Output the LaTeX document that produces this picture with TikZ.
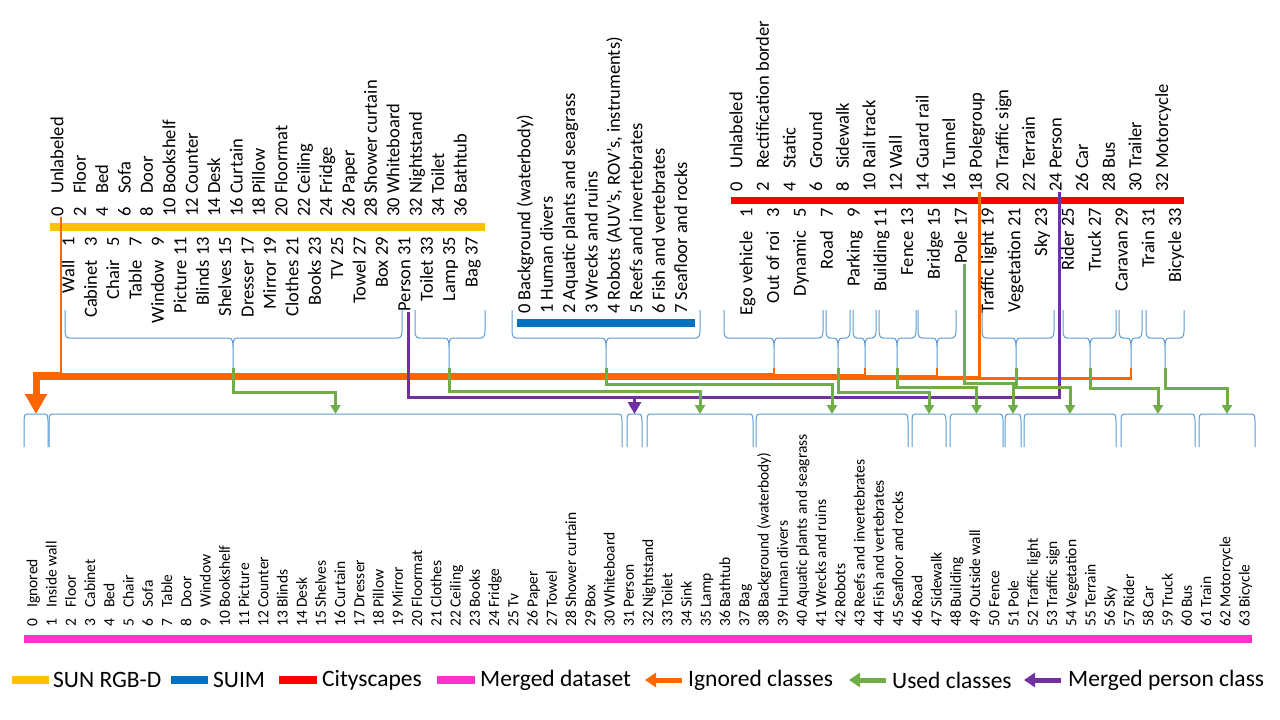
\documentclass[tikz,border=0pt]{standalone}
\usepackage{fontspec}
\setmainfont{Carlito}
\usetikzlibrary{arrows.meta}
\definecolor{cYel}{HTML}{FFC000}
\definecolor{cBlu}{HTML}{0070C0}
\definecolor{cRed}{HTML}{FF0000}
\definecolor{cPnk}{HTML}{FF33CC}
\definecolor{cOra}{HTML}{FF6600}
\definecolor{cGrn}{HTML}{70AD47}
\definecolor{cPur}{HTML}{7030A0}
\definecolor{cBrc}{HTML}{5B9BD5}
\newcommand\nL[1]{\makebox[1.014em][l]{#1}}
\newcommand\nR[1]{\makebox[1.014em][r]{#1}}
% top brace: name, x1, x2, tip x
\newcommand\tbrace[4]{%
  \draw[brc] (#2,310) -- (#2,331) to[out=-90,in=180] (#2+4,338) -- (#4-4,338)
    to[out=0,in=90] (#4,347) -- (#4,368) -- (#4,347) to[out=90,in=180] (#4+4,338)
    -- (#3-4,338) to[out=0,in=-90] (#3,331) -- (#3,310);
  \coordinate (#1) at (#4,368);}
% bottom bracket: name, x1, x2
\newcommand\bbrace[3]{%
  \draw[brc] (#2,447) -- (#2,421) to[out=90,in=180] (#2+3,414) -- (#3-3,414)
    to[out=0,in=90] (#3,421) -- (#3,447);
  \coordinate (#1) at ({(#2+#3)/2},414);}
\begin{document}
\begin{tikzpicture}[x=1pt,y=-1pt,
  tl/.style={rotate=90,inner sep=0pt,font=\fontsize{18.5}{20}\selectfont},
  up/.style={tl,anchor=mid west},
  dn/.style={tl,anchor=mid east},
  ml/.style={rotate=90,inner sep=0pt,anchor=mid west,font=\fontsize{15.5}{17}\selectfont},
  brc/.style={draw=cBrc,line width=1pt},
  used/.style={draw=cGrn,line width=3pt,-{Triangle[width=10pt,length=9pt]}},
  ign/.style={draw=cOra,line width=2.5pt},
  per/.style={draw=cPur,line width=3pt},
  leg/.style={anchor=west,inner sep=0pt,font=\fontsize{23.5}{26}\selectfont}]
\fill[white] (0,0) rectangle (1280,720);
\useasboundingbox (0,0) rectangle (1280,720);

% ---------- bars ----------
\fill[cYel] (50,223) rectangle (485,231);
\fill[cBlu] (517,319) rectangle (695,327);
\fill[cRed] (731,197) rectangle (1184,204);
\fill[cPnk] (24,635) rectangle (1252,643);

% ---------- SUN RGB-D labels ----------
\foreach \n/\t [count=\k from 0] in {0/Unlabeled,2/Floor,4/Bed,6/Sofa,8/Door,10/Bookshelf,12/Counter,14/Desk,16/Curtain,18/Pillow,20/Floormat,22/Ceiling,24/Fridge,26/Paper,28/Shower curtain,30/Whiteboard,32/Nightstand,34/Toilet,36/Bathtub}
  \node[up] (sE\n) at ({61+22.4*\k},217) {\nL{\n}\ \t};
\foreach \n/\t [count=\k from 0] in {1/Wall,3/Cabinet,5/Chair,7/Table,9/Window,11/Picture,13/Blinds,15/Shelves,17/Dresser,19/Mirror,21/Clothes,23/Books,25/TV,27/Towel,29/Box,31/Person,33/Toilet,35/Lamp,37/Bag}
  \node[dn] (sO\n) at ({72+22.4*\k},237) {\t\ \nR{\n}};

% ---------- SUIM labels ----------
\foreach \n/\t [count=\k from 0] in {0/Background (waterbody),1/Human divers,2/Aquatic plants and seagrass,3/Wrecks and ruins,4/{Robots (AUV’s, ROV’s, instruments)},5/Reefs and invertebrates,6/Fish and vertebrates,7/Seafloor and rocks}
  \node[up] (uE\n) at ({528+22.4*\k},314) {\n\ \t};

% ---------- Cityscapes labels ----------
\foreach \n/\t [count=\k from 0] in {0/Unlabeled,2/Rectification border,4/Static,6/Ground,8/Sidewalk,10/Rail track,12/Wall,14/Guard rail,16/Tunnel,18/Polegroup,20/Traffic sign,22/Terrain,24/Person,26/Car,28/Bus,30/Trailer,32/Motorcycle}
  \node[up] (cE\n) at ({740+26.6*\k},192) {\nL{\n}\ \t};
\foreach \n/\t [count=\k from 0] in {1/Ego vehicle,3/Out of roi,5/Dynamic,7/Road,9/Parking,11/Building,13/Fence,15/Bridge,17/Pole,19/Traffic light,21/Vegetation,23/Sky,25/Rider,27/Truck,29/Caravan,31/Train,33/Bicycle}
  \node[dn] (cO\n) at ({750+26.8*\k},208) {\t\ \nR{\n}};

% ---------- merged dataset labels ----------
\foreach \t [count=\k from 0] in {Ignored,Inside wall,Floor,Cabinet,Bed,Chair,Sofa,Table,Door,Window,Bookshelf,Picture,Counter,Blinds,Desk,Shelves,Curtain,Dresser,Pillow,Mirror,Floormat,Clothes,Ceiling,Books,Fridge,Tv,Paper,Towel,Shower curtain,Box,Whiteboard,Person,Nightstand,Toilet,Sink,Lamp,Bathtub,Bag,Background (waterbody),Human divers,Aquatic plants and seagrass,Wrecks and ruins,Robots,Reefs and invertebrates,Fish and vertebrates,Seafloor and rocks,Road,Sidewalk,Building,Outside wall,Fence,Pole,Traffic light,Traffic sign,Vegetation,Terrain,Sky,Rider,Car,Truck,Bus,Train,Motorcycle,Bicycle}
  \node[ml] (m\k) at ({35+19.24*\k},627) {\nL{\k}\ \t};

% ---------- top braces ----------
\tbrace{sA}{65}{402}{233}
\tbrace{sB}{415}{485}{449}
\tbrace{uA}{512}{700}{606}
\tbrace{cA}{724}{823}{774}
\tbrace{cB}{826}{850}{838}
\tbrace{cC}{853}{876}{865}
\tbrace{cD}{879}{916}{897}
\tbrace{cF}{918}{956}{937}
\tbrace{cG}{982}{1054}{1016}
\tbrace{cH}{1063}{1116}{1090}
\tbrace{cI}{1119}{1142}{1131}
\tbrace{cJ}{1146}{1184}{1165}

% ---------- bottom brackets ----------
\bbrace{b1}{24}{48}
\bbrace{b2}{49}{622}
\bbrace{b3}{627}{642}
\bbrace{b4}{647}{753}
\bbrace{b5}{756}{908}
\bbrace{b6}{912}{946}
\bbrace{b7}{950}{1003}
\bbrace{b8}{1005}{1021}
\bbrace{b9}{1024}{1116}
\bbrace{b10}{1121}{1195}
\bbrace{b11}{1199}{1255}

% ---------- ignored classes (orange) ----------
\draw[ign] (sE0.mid west) |- (b1 |- 0,373.5);
\draw[ign] (cA) |- (b1 |- 0,374.5);
\draw[ign] (cC) |- (b1 |- 0,375.5);
\draw[ign] (cF) |- (b1 |- 0,376.5);
\draw[ign] (cE18.mid west) |- (b1 |- 0,377.5);
\draw[ign] (cI) |- (b1 |- 0,378.5);
\draw[draw=cOra,line width=7pt,-{Triangle[width=21pt,length=20pt]}] (b1 |- 0,372.3) -- (b1);

% ---------- merged person class (purple) ----------
\draw[per] (sO31.mid west) -- (sO31.mid west |- 0,397) -| (cE24.mid west);
\draw[per,-{Triangle[width=13pt,length=12pt]}] (b3 |- 0,397) -- (b3);

% ---------- used classes (green) ----------
\draw[used] (sA) |- (b2 |- 0,392) -- (b2);
\draw[used] (sB) |- (b4 |- 0,391) -- (b4);
\draw[used] (uA) |- (b5 |- 0,384) -- (b5);
\draw[used] (cB) |- (b6 |- 0,392) -- (b6);
\draw[used] (cD) |- (b7 |- 0,387) -- (b7);
\draw[used] (cO17.mid west) |- (b8 |- 0,383) -- (b8);
\draw[used] (cG) |- (b9 |- 0,387) -- (b9);
\draw[used] (cH) |- (b10 |- 0,388) -- (b10);
\draw[used] (cJ) |- (b11 |- 0,388) -- (b11);

% ---------- legend ----------
\fill[cYel] (12,676) rectangle (49,684);
\node[leg] (l1) at (53,680) {SUN RGB-D};
\fill[cBlu] (171,676) rectangle (208,684);
\node[leg] (l2) at (213,680) {SUIM};
\fill[cRed] (279,676) rectangle (317,684);
\node[leg] (l3) at (322,680) {Cityscapes};
\fill[cPnk] (437,676) rectangle (475,684);
\node[leg] (l4) at (480,680) {Merged dataset};
\coordinate (a1s) at (682,680); \coordinate (a1e) at (645,680);
\draw[draw=cOra,line width=5pt,-{Triangle[width=14pt,length=11pt]}] (a1s) -- (a1e);
\node[leg] (l5) at (688,680) {Ignored classes};
\coordinate (a2s) at (886,680); \coordinate (a2e) at (849,680);
\draw[draw=cGrn,line width=5pt,-{Triangle[width=14pt,length=11pt]}] (a2s) -- (a2e);
\node[leg] (l6) at (892,680) {Used classes};
\coordinate (a3s) at (1061,680); \coordinate (a3e) at (1024,680);
\draw[draw=cPur,line width=5pt,-{Triangle[width=14pt,length=11pt]}] (a3s) -- (a3e);
\node[leg] (l7) at (1068,680) {Merged person class};
\end{tikzpicture}
\end{document}
